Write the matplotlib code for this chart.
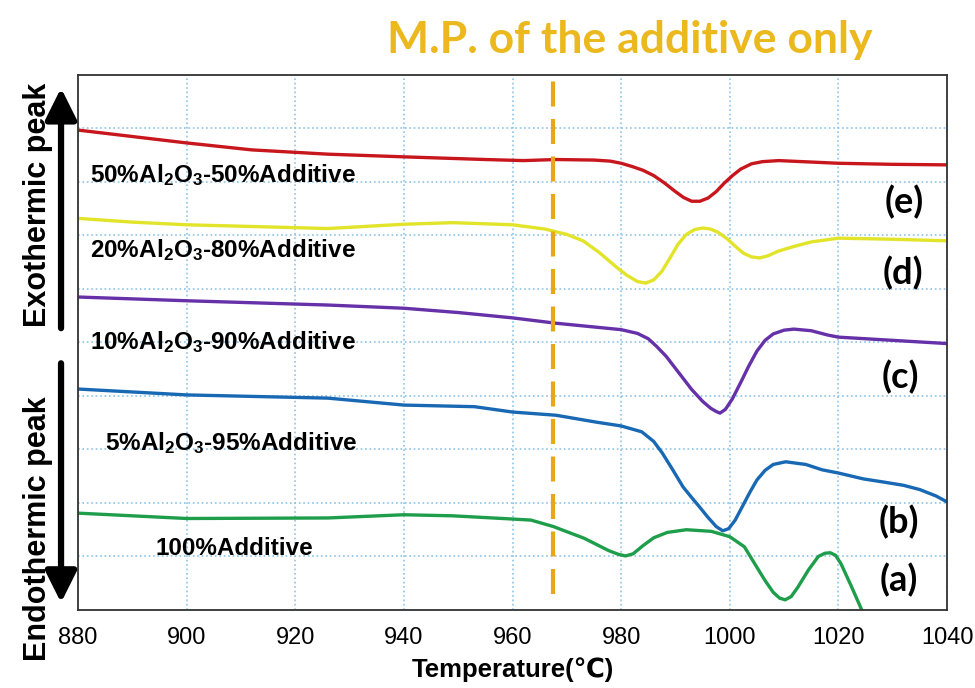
import matplotlib
matplotlib.use("Agg")
from matplotlib import pyplot as plt
from matplotlib.patches import FancyArrowPatch

# DTA curves (x: temperature in C, y: arbitrary signal, 0..10)
t_e = [880, 890, 900, 912, 926, 940, 955, 962, 968, 975, 978, 980, 982, 984, 986, 988, 990,
       991.5, 993, 994.5, 996, 997.5, 999, 1000.5, 1002, 1004, 1006, 1009, 1020, 1030, 1040]
v_e = [8.97, 8.85, 8.73, 8.60, 8.52, 8.47, 8.42, 8.40, 8.42, 8.41, 8.39, 8.35, 8.29, 8.22,
       8.12, 7.98, 7.82, 7.71, 7.64, 7.64, 7.70, 7.82, 7.98, 8.12, 8.24, 8.34, 8.38, 8.40,
       8.35, 8.33, 8.32]

t_d = [880, 890, 900, 915, 926, 940, 949, 960, 966, 970, 973, 976, 979, 981, 983, 984.5, 986,
       987.5, 989, 990.5, 992, 993.5, 995, 996.5, 998, 999.5, 1001, 1002.5, 1004, 1005.5, 1007,
       1009, 1012, 1015, 1020, 1030, 1040]
v_d = [7.32, 7.25, 7.20, 7.16, 7.13, 7.21, 7.24, 7.20, 7.12, 7.02, 6.90, 6.68, 6.42, 6.26,
       6.14, 6.11, 6.17, 6.33, 6.58, 6.84, 7.02, 7.11, 7.14, 7.12, 7.05, 6.94, 6.80, 6.67,
       6.60, 6.58, 6.62, 6.71, 6.80, 6.88, 6.95, 6.93, 6.90]

t_c = [880, 900, 926, 940, 950, 960, 968, 975, 980, 983, 985, 986.5, 988.3, 990.5, 993,
       995, 996.5, 997.5, 998.2, 999.2, 1000.5, 1002, 1003.5, 1005, 1006.5, 1008, 1010,
       1011.8, 1015, 1018, 1020, 1030, 1040]
v_c = [5.85, 5.78, 5.70, 5.64, 5.56, 5.46, 5.36, 5.29, 5.24, 5.17, 5.07, 4.93, 4.74, 4.45,
       4.12, 3.90, 3.77, 3.71, 3.68, 3.75, 3.95, 4.25, 4.56, 4.84, 5.04, 5.16, 5.23, 5.25,
       5.22, 5.14, 5.10, 5.04, 4.98]

t_b = [880, 900, 926, 940, 953, 960, 968, 975.5, 980, 983.8, 986, 987.6, 989.5, 991.4, 993,
       994.4, 996, 997.5, 998.7, 999.8, 1001, 1002.3, 1003.7, 1005, 1006.5, 1008, 1010.3,
       1014, 1017, 1020, 1024.6, 1028.4, 1032, 1035, 1038, 1040]
v_b = [4.13, 4.02, 3.96, 3.83, 3.80, 3.70, 3.64, 3.51, 3.44, 3.33, 3.15, 2.93, 2.62, 2.30,
       2.10, 1.93, 1.73, 1.56, 1.48, 1.52, 1.68, 1.93, 2.20, 2.43, 2.61, 2.72, 2.77, 2.72,
       2.62, 2.56, 2.45, 2.39, 2.33, 2.25, 2.13, 2.02]

t_a = [880, 900, 926, 940, 949, 960, 963.4, 967.5, 973.2, 977.7, 979.5, 980.8, 982.2, 984,
       986, 988.5, 992, 996.6, 1000, 1002.7, 1004.5, 1006.5, 1008, 1009.2, 1010.2, 1011.3,
       1012.5, 1014.5, 1016.3, 1017.5, 1018.5, 1019.5, 1020.5, 1022.4, 1024.3, 1025.5]
v_a = [1.81, 1.71, 1.72, 1.78, 1.76, 1.70, 1.68, 1.56, 1.34, 1.11, 1.04, 1.01, 1.05, 1.20,
       1.35, 1.45, 1.50, 1.47, 1.37, 1.18, 0.88, 0.55, 0.33, 0.22, 0.19, 0.25, 0.42, 0.75,
       1.00, 1.06, 1.07, 1.02, 0.86, 0.44, 0.0, -0.3]

sample_names = [r"50%Al$_2$O$_3$-50%Additive", r"20%Al$_2$O$_3$-80%Additive",
                r"10%Al$_2$O$_3$-90%Additive", r"5%Al$_2$O$_3$-95%Additive", "100%Additive"]
sample_pos = [(882.2, 8.13), (882.2, 6.73), (882.2, 5.0), (885.0, 3.12), (894.2, 1.14)]
curve_tags = ["(e)", "(d)", "(c)", "(b)", "(a)"]
tag_pos = [(1032.2, 7.63), (1031.8, 6.30), (1031.5, 4.36), (1031.1, 1.65), (1031.1, 0.56)]
x_ticks = [880, 900, 920, 940, 960, 980, 1000, 1020, 1040]
mp_temp = 967.5

plt.rcParams["mathtext.fontset"] = "custom"
plt.rcParams["mathtext.rm"] = "Liberation Sans:bold"
plt.rcParams["mathtext.it"] = "Liberation Sans:bold"
plt.rcParams["mathtext.bf"] = "Liberation Sans:bold"

fig = plt.figure(figsize=(9.75, 6.88), dpi=100)
ax = fig.add_axes([0.080, 0.1134, 0.8913, 0.7776])

colors = ["#C8161D", "#E2E42A", "#6530A8", "#1868B4", "#1E9E4A"]
for t, v, c in zip([t_e, t_d, t_c, t_b, t_a], [v_e, v_d, v_c, v_b, v_a], colors):
    ax.plot(t, v, color=c, lw=2.4, solid_capstyle="round", solid_joinstyle="round")

# melting point of the additive
ax.plot([mp_temp, mp_temp], [0.3, 10], color="#E6A817", lw=3, linestyle=(0, (6, 3)))

for name, (x, y) in zip(sample_names, sample_pos):
    ax.text(x, y, name, fontsize=17.5, fontweight="bold", family="Liberation Sans",
            ha="left", va="center")
for tag, (x, y) in zip(curve_tags, tag_pos):
    ax.text(x, y, tag, fontsize=26, fontweight="bold", family="Lato",
            ha="center", va="center")

ax.set_xlim(880, 1040)
ax.set_ylim(0, 10)
ax.set_xticks(x_ticks)
ax.set_yticks(range(11))
ax.set_yticklabels([])
ax.tick_params(axis="both", length=0)
ax.tick_params(axis="x", pad=12, labelsize=17)
for lbl in ax.get_xticklabels():
    lbl.set_family("Liberation Sans")
ax.grid(True, color="#8EC3E6", linestyle=":", lw=1.2)
for s in ax.spines.values():
    s.set_color("#333333")
    s.set_linewidth(1.3)

ax.set_xlabel("Temperature(℃)", fontsize=18.5, fontweight="bold",
              family=["Liberation Sans", "DejaVu Sans"], labelpad=6)

fig.text(0.646, 0.942, "M.P. of the additive only", fontsize=32, fontweight="bold",
         family="Lato", color="#EBB81E", ha="center", va="center")

fig.text(0.039, 0.702, "Exothermic peak", rotation=90, fontsize=22, fontweight="bold",
         family="Liberation Sans", ha="center", va="center")
fig.text(0.039, 0.232, "Endothermic peak", rotation=90, fontsize=22, fontweight="bold",
         family="Liberation Sans", ha="center", va="center")

up = FancyArrowPatch((0.0626, 0.523), (0.0626, 0.872), transform=fig.transFigure,
                     arrowstyle="-|>,head_length=1.0,head_width=0.5", mutation_scale=19,
                     lw=4.5, color="black", shrinkA=0, shrinkB=0)
down = FancyArrowPatch((0.0626, 0.472), (0.0626, 0.124), transform=fig.transFigure,
                       arrowstyle="-|>,head_length=1.0,head_width=0.5", mutation_scale=19,
                       lw=4.5, color="black", shrinkA=0, shrinkB=0)
fig.add_artist(up)
fig.add_artist(down)

fig.savefig("out.png", dpi=100)
